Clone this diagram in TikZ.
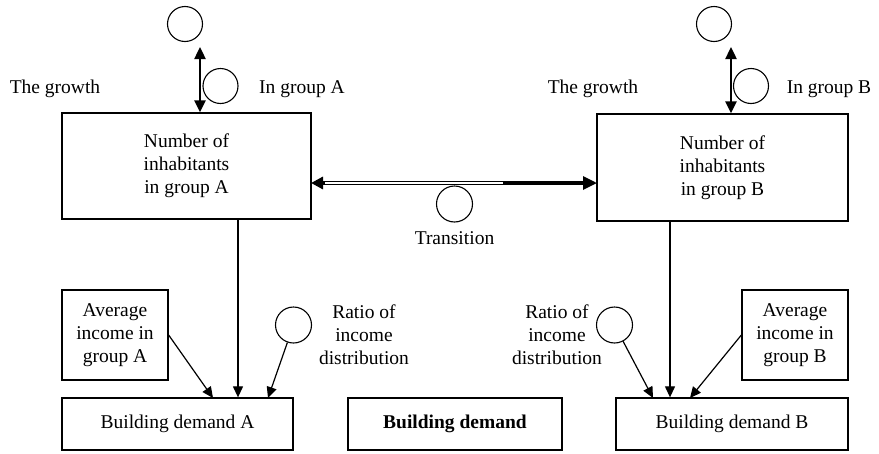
\documentclass[tikz,border=0pt]{standalone}
\usepackage{fontspec}
\setmainfont{Liberation Serif}
\usetikzlibrary{arrows.meta}

\tikzset{
  box/.style={draw, line width=1.3pt, align=center, inner sep=0pt},
  aux/.style={draw, circle, line width=1.1pt, minimum size=35pt, inner sep=0pt},
  lbl/.style={align=center, inner sep=0pt},
  feed/.style={line width=1.2pt, -{Triangle[length=11pt,width=10pt]}},
  flow/.style={line width=2.4pt, {Triangle[length=12pt,width=11pt]}-{Triangle[length=12pt,width=11pt]}},
}

\begin{document}
\begin{tikzpicture}[x=1pt, y=-1pt, font=\fontsize{19.5}{23}\selectfont]
\useasboundingbox (0,0) rectangle (879,453);

% population stocks
\node[box, minimum width=249pt, minimum height=106pt] (popA) at (186.5,166) {Number of\\inhabitants\\in group A};
\node[box, minimum width=251pt, minimum height=107pt] (popB) at (722.5,167.5) {Number of\\inhabitants\\in group B};

% income boxes
\node[box, minimum width=106pt, minimum height=90pt] (avgA) at (115,335) {Average\\income in\\group A};
\node[box, minimum width=106pt, minimum height=90pt] (avgB) at (795,335) {Average\\income in\\group B};

% demand boxes
\node[box, minimum width=231pt, minimum height=52pt] (bdA) at (177.5,424) {Building demand A};
\node[box, minimum width=214pt, minimum height=52pt] (bd) at (455,424) {\bfseries Building demand};
\node[box, minimum width=232pt, minimum height=52pt] (bdB) at (732,424) {Building demand B};

% auxiliary circles
\node[aux] (srcA) at (185,24) {};
\node[aux] (rateA) at (220.5,86) {};
\node[aux] (srcB) at (714,24) {};
\node[aux] (rateB) at (751,86) {};
\node[aux, minimum size=36pt] (trans) at (454.5,204) {};
\node[aux, minimum size=36pt] (ratA) at (293.5,325) {};
\node[aux, minimum size=36pt] (ratB) at (614.5,325) {};

% labels
\node[lbl] (growA) at (55,89) {The growth};
\node[lbl] (inA) at (302,89) {In group A};
\node[lbl] (growB) at (593,89) {The growth};
\node[lbl] (inB) at (829,89) {In group B};
\node[lbl] (transl) at (454.5,238) {Transition};
\node[lbl] (ratAl) at (364,335) {Ratio of\\income\\distribution};
\node[lbl] (ratBl) at (557,335) {Ratio of\\income\\distribution};

% free ends and attachment points
\coordinate (gA) at (200,47);
\coordinate (gB) at (731,47);
\coordinate (trL) at (311,183);
\coordinate (trR) at (597,183);
\coordinate (trM) at (503,183);
\coordinate (dA1) at (213,398);
\coordinate (dA3) at (268,398);
\coordinate (dB1) at (653,398);
\coordinate (dB3) at (690,398);
\coordinate (vA) at (238,0);
\coordinate (vB) at (670,0);

% growth flows
\draw[flow] (popA.north -| gA) -- (gA);
\draw[flow] (popB.north -| gB) -- (gB);

% transition flow between the groups
\draw[line width=3.2pt, {Triangle[length=12pt,width=12pt]}-{Triangle[length=14pt,width=13pt]}] (trL) -- (trR);
\draw[white, line width=1.2pt] ([xshift=14pt]trL) -- (trM);

% influences on building demand
\draw[feed] (avgA.east) -- (dA1);
\draw[feed] (popA.south -| vA) -- (bdA.north -| vA);
\draw[feed] (ratA) -- (dA3);
\draw[feed] (ratB) -- (dB1);
\draw[feed] (popB.south -| vB) -- (bdB.north -| vB);
\draw[feed] (avgB.west) -- (dB3);
\end{tikzpicture}
\end{document}
